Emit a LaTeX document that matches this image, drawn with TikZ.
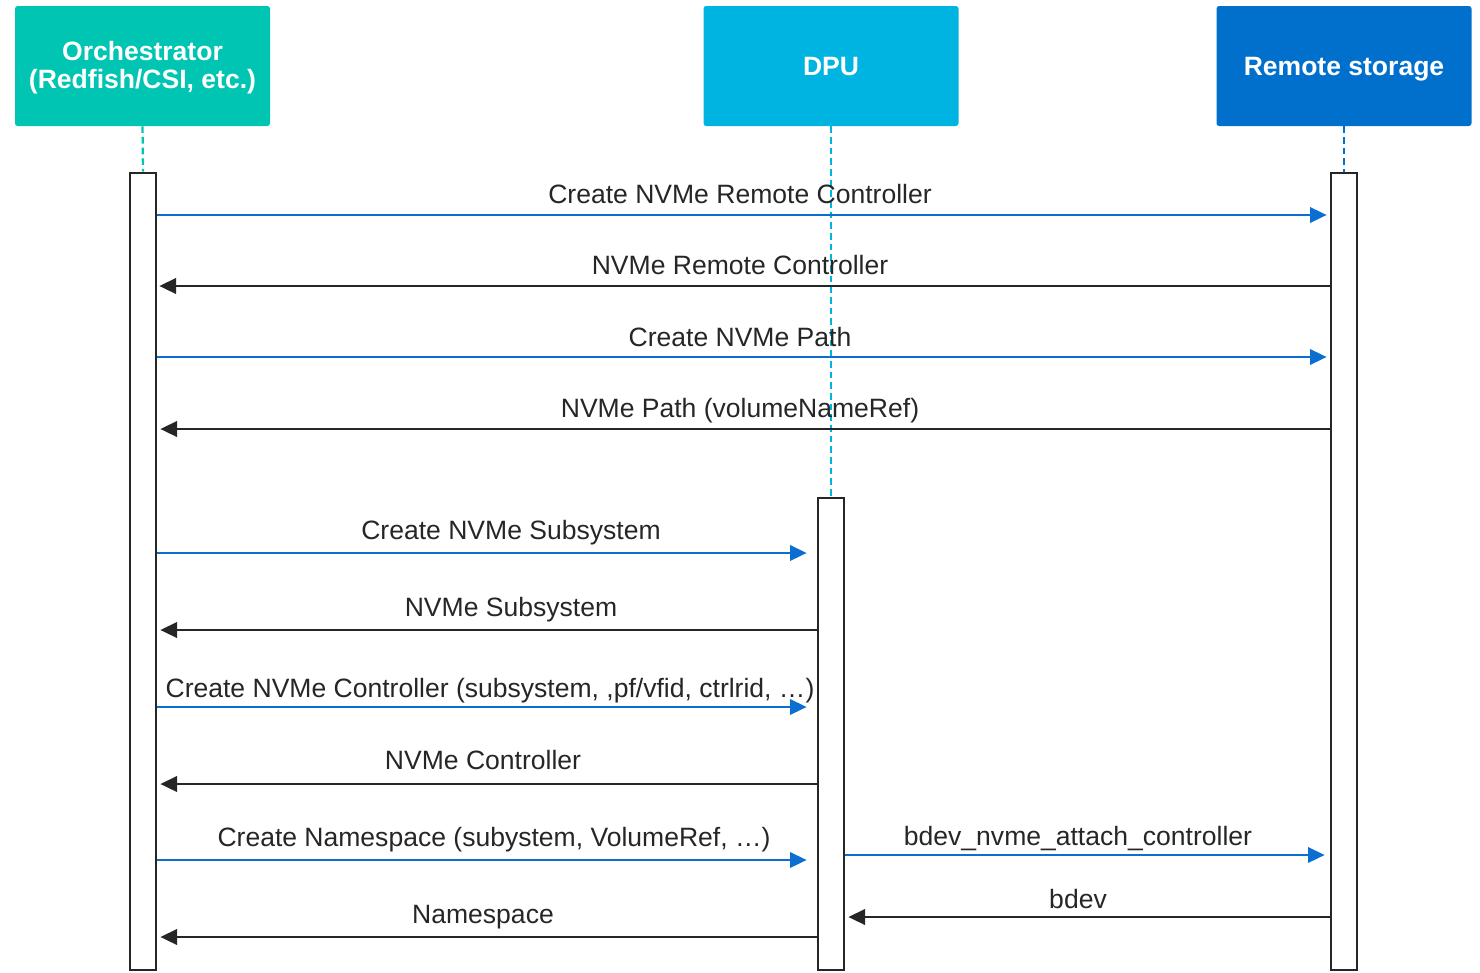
\documentclass[tikz,border=0pt]{standalone}
\usepackage{fontspec}
\setmainfont{Liberation Sans}
\usetikzlibrary{arrows.meta}
\definecolor{orchc}{HTML}{00C5B2}
\definecolor{dpuc}{HTML}{00B4E1}
\definecolor{remc}{HTML}{0070CC}
\definecolor{msgblue}{HTML}{0A6FD0}
\definecolor{darkc}{HTML}{262626}
\begin{document}
\begin{tikzpicture}[x=0.75pt,y=-0.75pt,
  head/.style={rounded corners=2pt, text=white, font=\fontsize{19.9}{21}\selectfont\bfseries, align=center, inner sep=0, minimum width=191.25pt, minimum height=90pt},
  actbar/.style={draw=darkc, line width=2pt, fill=white, inner sep=0, minimum width=19.5pt},
  life/.style={line width=1.7pt, dash pattern=on 5pt off 3pt},
  lbl/.style={font=\fontsize{19.9}{24}\selectfont, text=darkc, inner sep=0, anchor=base},
  req/.style={draw=msgblue, line width=1.9pt, -{Triangle[length=12.5pt,width=11.5pt]}},
  rep/.style={draw=darkc, line width=1.9pt, -{Triangle[length=12.5pt,width=11.5pt]}},
]
\useasboundingbox (0,0) rectangle (1480,972);

% headers
\node[head, fill=orchc] (orch) at (142.5,66) {\raisebox{-2.25pt}[\height][\depth]{\begin{tabular}{@{}c@{}}Orchestrator\\(Redfish/CSI, etc.)\end{tabular}}};
\node[head, fill=dpuc] (dpu) at (831,66) {DPU};
\node[head, fill=remc] (rem) at (1344,66) {\raisebox{-2.25pt}[\height][\depth]{Remote storage}};

% activation bars
\node[actbar, minimum height=597.75pt] (ob) at (143,571.5) {};
\node[actbar, minimum height=354pt] (db) at (831,734) {};
\node[actbar, minimum height=597.75pt] (rb) at (1344,571.5) {};

% lifelines
\draw[life, orchc] (orch.south) -- (ob.north);
\draw[life, dpuc] (dpu.south) -- (db.north);
\draw[life, remc] (rem.south) -- (rb.north);

% messages orchestrator <-> remote storage
\draw[req] (ob.east |- 0,215) -- ([xshift=-2.25pt]rb.west |- 0,215);
\node[lbl] (m1) at (740,203.5) {Create NVMe Remote Controller};
\draw[rep] (rb.west |- 0,286) -- ([xshift=1.5pt]ob.east |- 0,286);
\node[lbl] (m2) at (740,274.5) {NVMe Remote Controller};
\draw[req] (ob.east |- 0,357) -- ([xshift=-2.25pt]rb.west |- 0,357);
\node[lbl] (m3) at (740,346.5) {Create NVMe Path};
\draw[rep] (rb.west |- 0,429) -- ([xshift=2.25pt]ob.east |- 0,429);
\node[lbl] (m4) at (740,417.5) {NVMe Path (volumeNameRef)};

% messages orchestrator <-> DPU
\draw[req] (ob.east |- 0,553) -- ([xshift=-7.5pt]db.west |- 0,553);
\node[lbl] (m5) at (511,539.5) {Create NVMe Subsystem};
\draw[rep] (db.west |- 0,630) -- ([xshift=2.25pt]ob.east |- 0,630);
\node[lbl] (m6) at (511,616.5) {NVMe Subsystem};
\draw[req] (ob.east |- 0,707) -- ([xshift=-7.5pt]db.west |- 0,707);
\node[lbl] (m7) at (490,697.5) {Create NVMe Controller (subsystem, ,pf/vfid, ctrlrid, \dots)};
\draw[rep] (db.west |- 0,784) -- ([xshift=2.25pt]ob.east |- 0,784);
\node[lbl] (m8) at (483,769.5) {NVMe Controller};
\draw[req] (ob.east |- 0,860) -- ([xshift=-7.5pt]db.west |- 0,860);
\node[lbl] (m9) at (494,846.5) {Create Namespace (subystem, VolumeRef, \dots)};
\draw[rep] (db.west |- 0,937) -- ([xshift=2.25pt]ob.east |- 0,937);
\node[lbl] (m10) at (483,923.5) {Namespace};

% messages DPU <-> remote storage
\draw[req] (db.east |- 0,855) -- ([xshift=-3.75pt]rb.west |- 0,855);
\node[lbl] (m11) at (1078,845.5) {bdev\_nvme\_attach\_controller};
\draw[rep] (rb.west |- 0,917) -- ([xshift=2.25pt]db.east |- 0,917);
\node[lbl] (m12) at (1078,908.5) {bdev};
\end{tikzpicture}
\end{document}
